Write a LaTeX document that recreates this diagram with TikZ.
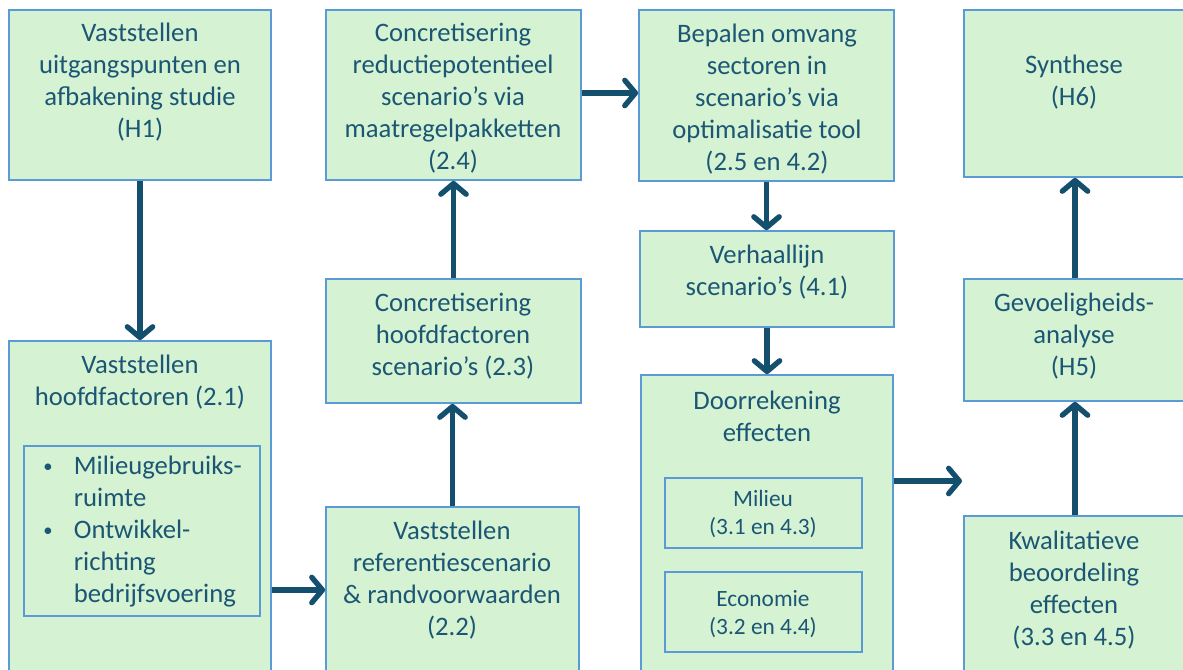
\documentclass[tikz,border=0pt]{standalone}
\usepackage{fontspec}
\setmainfont{Carlito}
\usetikzlibrary{arrows.meta,fit}
\definecolor{boxfill}{HTML}{D5F2D3}
\definecolor{boxline}{HTML}{5B9BD5}
\definecolor{txtcol}{HTML}{1B5774}
\definecolor{arrcol}{HTML}{14506E}
\newcommand{\smbullet}{\raisebox{1.5pt}{\scalebox{0.7}{\textbullet}}}
\tikzset{
  box/.style={draw=boxline,fill=boxfill,line width=1.3pt,inner sep=0pt},
  txt/.style={text=txtcol,align=center,font=\fontsize{20}{24}\selectfont,inner sep=0pt},
  smalltxt/.style={text=txtcol,align=center,font=\fontsize{17.5}{21}\selectfont,inner sep=0pt},
  arr/.style={draw=arrcol,line width=4pt,-{Straight Barb[length=8pt,width=19pt,round]}}
}
\begin{document}
\begin{tikzpicture}[x=0.75pt,y=-0.75pt]
\useasboundingbox (0,0) rectangle (1183,670);
\clip (0,0) rectangle (1183,670);
\fill[white] (0,0) rectangle (1183,670);
% boxes
\node[box,fit={(9,10) (271,180)}] (h1) {};
\node[box,fit={(9,341) (271,690)}] (b21) {};
\node[box,fit={(24,446) (260,616)}] (b21i) {};
\node[box,fit={(326,10) (581,180)}] (b24) {};
\node[box,fit={(326,279) (581,403)}] (b23) {};
\node[box,fit={(326,507) (579,690)}] (b22) {};
\node[box,fit={(639,10) (894,181)}] (b25) {};
\node[box,fit={(640,231) (894,327)}] (b41) {};
\node[box,fit={(641,375) (893,690)}] (door) {};
\node[box,fit={(665,478) (862,548)}] (mil) {};
\node[box,fit={(665,572) (862,652)}] (eco) {};
\node[box,fit={(964,10) (1195,177)}] (h6) {};
\node[box,fit={(964,279) (1195,401)}] (h5) {};
\node[box,fit={(964,516) (1195,690)}] (kw) {};
% texts
\node[txt] (h1t) at (140,82) {Vaststellen\\uitgangspunten en\\afbakening studie\\(H1)};
\node[txt] (b21t) at (140,382) {Vaststellen\\hoofdfactoren (2.1)};
\node[txt,align=left,anchor=west] (b21it) at (43,532) {\begin{tabular}{@{}l@{\hspace{16pt}}l@{}}\smbullet & Milieugebruiks-\\ & ruimte\\ \smbullet & Ontwikkel-\\ & richting\\ & bedrijfsvoering\end{tabular}};
\node[txt] (b24t) at (453,98) {Concretisering\\reductiepotentieel\\scenario’s via\\maatregelpakketten\\(2.4)};
\node[txt] (b23t) at (453,336) {Concretisering\\hoofdfactoren\\scenario’s (2.3)};
\node[txt] (b22t) at (452,580) {Vaststellen\\referentiescenario\\\&\ randvoorwaarden\\(2.2)};
\node[txt] (b25t) at (767,99) {Bepalen omvang\\sectoren in\\scenario’s via\\optimalisatie tool\\(2.5 en 4.2)};
\node[txt] (b41t) at (767,272) {Verhaallijn\\scenario’s (4.1)};
\node[txt] (doort) at (767,416) {Doorrekening\\effecten};
\node[smalltxt] (milt) at (763,514) {Milieu\\(3.1 en 4.3)};
\node[smalltxt] (ecot) at (763,614) {Economie\\(3.2 en 4.4)};
\node[txt] (h6t) at (1074,82) {Synthese\\(H6)};
\node[txt] (h5t) at (1074,336) {Gevoeligheids-\\analyse\\(H5)};
\node[txt] (kwt) at (1074,590) {Kwalitatieve\\beoordeling\\effecten\\(3.3 en 4.5)};
% connectors
\coordinate (r1) at (0,590);
\coordinate (r2) at (0,93);
\coordinate (r3) at (0,481);
\coordinate (cx) at (1075,0);
\coordinate (eend) at (962,481);
\draw[arr] (h1.south) -- (b21.north);
\draw[arr] (b21.east |- r1) -- (b22.west |- r1);
\draw[arr] (b22.north) -- (b22.north |- b23.south);
\draw[arr] (b23.north) -- (b24.south);
\draw[arr] (b24.east |- r2) -- (b25.west |- r2);
\draw[arr] (b25.south) -- (b25.south |- b41.north);
\draw[arr] (b41.south) -- (b41.south |- door.north);
\draw[arr] (door.east |- r3) -- (eend);
\draw[arr] (kw.north -| cx) -- (h5.south -| cx);
\draw[arr] (h5.north -| cx) -- (h6.south -| cx);
\end{tikzpicture}
\end{document}
